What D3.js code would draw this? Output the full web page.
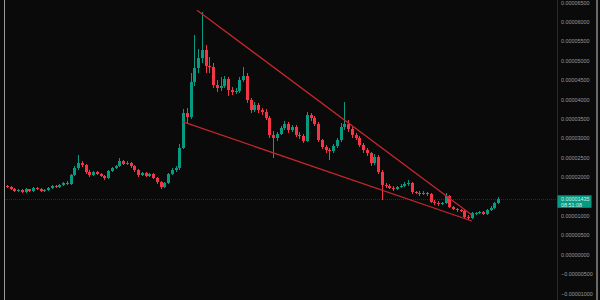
<!DOCTYPE html>
<html>
<head>
<meta charset="utf-8">
<script src="https://cdn.jsdelivr.net/npm/d3@7"></script>
<style>
  html, body { margin: 0; padding: 0; background: #0a0a0a; }
  svg { display: block; }
</style>
</head>
<body>
<svg id="chart" width="600" height="300"></svg>
<script>
// Prices are stored in units of 1e-5
const UNIT = 1e-5;
const firstOpen = 1.78;
const closes = [
  1.75, 1.70, 1.65, 1.68, 1.62, 1.70, 1.65, 1.73, 1.70, 1.65,
  1.68, 1.73, 1.78, 1.75, 1.80, 1.86, 1.83, 2.06, 2.24, 2.37,
  2.32, 2.14, 2.06, 2.14, 2.09, 2.04, 1.98, 2.17, 2.24, 2.29,
  2.42, 2.35, 2.37, 2.29, 2.19, 2.06, 2.11, 2.04, 2.09, 1.98,
  1.88, 1.75, 1.86, 2.09, 2.19, 2.24, 2.76, 3.66, 3.56, 4.46,
  4.82, 5.08, 5.28, 4.87, 4.85, 4.38, 4.30, 4.36, 4.54, 4.25,
  4.20, 4.23, 4.51, 4.61, 4.00, 3.74, 3.87, 3.74, 3.69, 3.53,
  3.09, 3.02, 3.12, 3.27, 3.38, 3.22, 3.30, 3.09, 3.07, 2.94,
  3.61, 3.53, 3.38, 2.96, 2.78, 2.71, 2.68, 2.81, 2.96, 3.30,
  3.38, 3.25, 3.09, 3.02, 2.84, 2.71, 2.63, 2.37, 2.53, 2.14,
  1.80, 1.78, 1.73, 1.70, 1.75, 1.78, 1.83, 1.86, 1.62, 1.60,
  1.57, 1.60, 1.57, 1.37, 1.34, 1.31, 1.34, 1.52, 1.24, 1.19,
  1.16, 1.13, 0.98, 0.95, 1.08, 1.08, 1.11, 1.06, 1.16, 1.21,
  1.34, 1.435
];
const highs = [
  1.81, 1.77, 1.72, 1.70, 1.70, 1.72, 1.71, 1.75, 1.76, 1.72,
  1.70, 1.76, 1.80, 1.81, 1.83, 1.89, 1.90, 2.10, 2.30, 2.58,
  2.42, 2.34, 2.18, 2.17, 2.16, 2.12, 2.06, 2.20, 2.28, 2.33,
  2.50, 2.46, 2.42, 2.40, 2.31, 2.22, 2.15, 2.14, 2.12, 2.11,
  2.00, 1.90, 1.89, 2.12, 2.24, 2.30, 2.85, 3.75, 3.80, 4.70,
  5.67, 5.30, 6.26, 5.40, 5.10, 4.95, 4.50, 4.60, 4.62, 4.58,
  4.33, 4.30, 4.58, 4.85, 4.68, 4.05, 3.95, 3.92, 3.80, 3.75,
  3.58, 3.20, 3.18, 3.33, 3.45, 3.42, 3.36, 3.34, 3.18, 3.12,
  3.68, 3.66, 3.58, 3.42, 3.00, 2.84, 2.76, 2.86, 3.02, 3.40,
  3.94, 3.48, 3.30, 3.14, 3.06, 2.88, 2.76, 2.66, 2.60, 2.57,
  2.18, 1.86, 1.82, 1.77, 1.79, 1.84, 1.88, 1.92, 1.89, 1.66,
  1.64, 1.64, 1.63, 1.60, 1.41, 1.38, 1.37, 1.60, 1.55, 1.27,
  1.22, 1.19, 1.16, 1.02, 1.11, 1.12, 1.14, 1.13, 1.19, 1.25,
  1.37, 1.50
];
const lows = [
  1.72, 1.68, 1.63, 1.62, 1.60, 1.60, 1.62, 1.63, 1.68, 1.62,
  1.63, 1.66, 1.71, 1.72, 1.73, 1.78, 1.80, 1.81, 2.03, 2.20,
  2.26, 2.10, 2.02, 2.03, 2.05, 2.00, 1.94, 1.96, 2.14, 2.21,
  2.27, 2.31, 2.32, 2.25, 2.15, 2.02, 2.03, 2.00, 2.01, 1.95,
  1.84, 1.70, 1.73, 1.84, 2.06, 2.15, 2.20, 2.72, 3.40, 3.50,
  4.35, 4.70, 4.95, 4.70, 4.70, 4.30, 4.20, 4.22, 4.30, 4.10,
  4.12, 4.14, 4.18, 4.45, 3.92, 3.65, 3.68, 3.66, 3.60, 3.48,
  3.02, 2.50, 2.95, 3.08, 3.22, 3.15, 3.16, 3.04, 3.00, 2.88,
  2.90, 3.45, 3.32, 2.90, 2.72, 2.64, 2.45, 2.62, 2.76, 2.92,
  3.22, 3.18, 3.02, 2.96, 2.78, 2.64, 2.56, 2.30, 2.33, 2.08,
  1.42, 1.72, 1.69, 1.66, 1.67, 1.72, 1.75, 1.79, 1.58, 1.56,
  1.53, 1.54, 1.53, 1.33, 1.30, 1.27, 1.28, 1.32, 1.20, 1.15,
  1.12, 1.10, 0.94, 0.91, 0.93, 1.04, 1.06, 1.02, 1.04, 1.13,
  1.19, 1.32
];
const priceTicks = [6.5, 6.0, 5.5, 5.0, 4.5, 4.0, 3.5, 3.0, 2.5, 2.0, 1.5, 1.0, 0.5, 0.0, -0.5, -1.0];
const lastPrice = 1.435;
const lastTime = "08:51:08";
// Wedge trendlines: [bar index, price]
const upperTrend = [[50.7, 6.31], [124.0, 1.03]];
const lowerTrend = [[47.0, 3.43], [124.0, 0.876]];

const W = 600, H = 300;
const plotLeft = 5, axisX = 557;
const UP = "#089981", DOWN = "#f23645";

const svg = d3.select("#chart");

const candles = closes.map((c, i) => ({
  i, open: i === 0 ? firstOpen : closes[i - 1], close: c, high: highs[i], low: lows[i]
}));

const x = d3.scaleLinear().domain([-0.5, closes.length - 0.5]).range([5, 500]);
const y = d3.scaleLinear().domain([6.572, -1.160]).range([0, H]);
const bodyW = 3;

// Background
svg.append("rect").attr("width", W).attr("height", H).attr("fill", "#0a0a0a");

// Frame lines
svg.append("line").attr("x1", 4.5).attr("x2", 4.5).attr("y1", 0).attr("y2", H)
  .attr("stroke", "#9a9a9a").attr("stroke-width", 1);
svg.append("line").attr("x1", axisX + 0.5).attr("x2", axisX + 0.5).attr("y1", 0).attr("y2", H)
  .attr("stroke", "#2a2a2a").attr("stroke-width", 1);
svg.append("line").attr("x1", 597).attr("x2", 597).attr("y1", 0).attr("y2", H)
  .attr("stroke", "#8a8a8a").attr("stroke-width", 1.5);

// Last price line
svg.append("line")
  .attr("x1", plotLeft).attr("x2", axisX)
  .attr("y1", Math.round(y(lastPrice)) + 0.5).attr("y2", Math.round(y(lastPrice)) + 0.5)
  .attr("stroke", UP).attr("stroke-opacity", 0.35).attr("stroke-dasharray", "1,1");

// Candles
const g = svg.append("g").attr("shape-rendering", "crispEdges");
const cg = g.selectAll("g.candle").data(candles).join("g").attr("class", "candle");
cg.append("line")
  .attr("x1", d => Math.round(x(d.i)) + 0.5).attr("x2", d => Math.round(x(d.i)) + 0.5)
  .attr("y1", d => y(d.high)).attr("y2", d => y(d.low))
  .attr("stroke", d => d.close >= d.open ? UP : DOWN).attr("stroke-width", 1);
cg.append("rect")
  .attr("x", d => Math.round(x(d.i)) - 1)
  .attr("width", bodyW)
  .attr("y", d => y(Math.max(d.open, d.close)))
  .attr("height", d => Math.max(1, Math.abs(y(d.open) - y(d.close))))
  .attr("fill", d => d.close >= d.open ? UP : DOWN);

// Wedge trendlines
const trend = d3.line().x(d => x(d[0])).y(d => y(d[1]));
[upperTrend, lowerTrend].forEach(t => {
  svg.append("path").attr("d", trend(t))
    .attr("fill", "none").attr("stroke", "#c4262e").attr("stroke-width", 1.3);
});

// Price axis on the right
const fmt = v => {
  const s = (Math.abs(v) * UNIT).toFixed(8);
  return v < 0 ? "\u2212" + s : s;
};
const badgeY = y(lastPrice);
const axisG = svg.append("g").attr("transform", `translate(${axisX},0)`);
axisG.selectAll("text.tick").data(priceTicks.filter(v => Math.abs(y(v) - badgeY) > 9))
  .join("text").attr("class", "tick")
  .attr("x", 4).attr("y", d => y(d)).attr("dy", "0.35em")
  .attr("fill", "#9a9a9a")
  .attr("font-family", "Liberation Sans, Arial, sans-serif")
  .attr("font-size", 5.4)
  .text(fmt);

// Last price badge
axisG.append("rect")
  .attr("x", 0.5).attr("y", badgeY - 4).attr("width", 34).attr("height", 12.5)
  .attr("fill", UP);
axisG.append("text")
  .attr("x", 4).attr("y", badgeY).attr("dy", "0.35em")
  .attr("fill", "#d8efe9")
  .attr("font-family", "Liberation Sans, Arial, sans-serif").attr("font-size", 5.4)
  .text(fmt(lastPrice));
axisG.append("text")
  .attr("x", 4).attr("y", badgeY + 5.5).attr("dy", "0.35em")
  .attr("fill", "#d8efe9")
  .attr("font-family", "Liberation Sans, Arial, sans-serif").attr("font-size", 5.4)
  .text(lastTime);
</script>
</body>
</html>
